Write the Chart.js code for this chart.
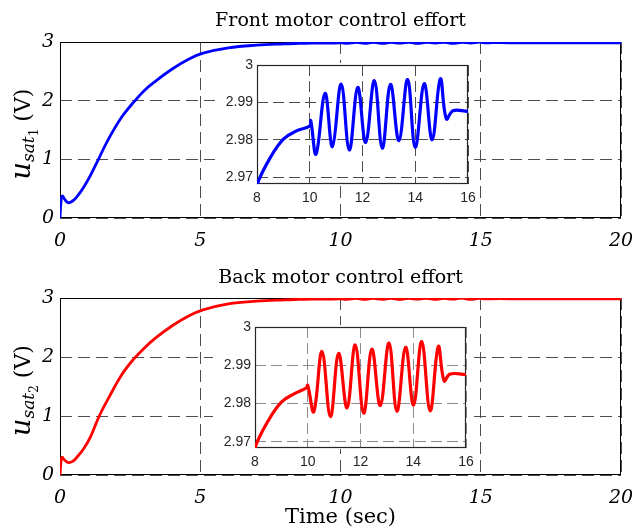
<!DOCTYPE html>
<html>
<head>
<meta charset="utf-8">
<title>Front / back motor control effort</title>
<script src="https://cdn.jsdelivr.net/npm/chart.js@4.4.1/dist/chart.umd.min.js"></script>
<style>
  html, body { margin: 0; padding: 0; background: #fff; }
  body { width: 632px; height: 530px; position: relative; overflow: hidden; }
  canvas { position: absolute; }
  #frontMain { left: 0; top: 0; }
  #backMain { left: 0; top: 262px; }
  #frontZoom { left: 215px; top: 55px; z-index: 2; }
  #backZoom { left: 213px; top: 317px; z-index: 2; }
</style>
</head>
<body>
<canvas id="frontMain" width="632" height="262"></canvas>
<canvas id="backMain" width="632" height="268"></canvas>
<canvas id="frontZoom" width="261" height="149"></canvas>
<canvas id="backZoom" width="261" height="151"></canvas>
<script>
// Front motor: time (sec) and saturated control effort (V)
const frontTime = [0, 0.03, 0.08, 0.18, 0.3, 0.45, 0.6, 0.85, 1.1, 1.37, 1.7, 2.2, 2.6, 3.0, 3.4, 4.0, 4.6, 5.1, 6.0, 7.0,
  8.0, 8.5, 9.0, 9.5, 10.0, 10.04, 10.24, 10.58, 10.86, 11.19, 11.5, 11.82, 12.12, 12.45, 12.75,
  13.06, 13.38, 13.71, 14.0, 14.34, 14.64, 14.95, 15.18, 15.43, 16, 20];
const frontEffort = [0, 0.25, 0.375, 0.31, 0.26, 0.29, 0.36, 0.53, 0.74, 1.0, 1.32, 1.72, 1.96, 2.17, 2.33, 2.54, 2.71, 2.81, 2.9, 2.946,
  2.968, 2.9752, 2.9802, 2.9824, 2.9837, 2.9851, 2.9762, 2.9924, 2.9782, 2.9949, 2.9773, 2.994, 2.9793, 2.9958, 2.9778,
  2.9948, 2.9798, 2.9961, 2.978, 2.995, 2.98, 2.9963, 2.9856, 2.9878, 2.9876, 2.9876];

// Back motor
const backTime = [0, 0.03, 0.07, 0.17, 0.3, 0.45, 0.6, 0.85, 1.1, 1.4, 1.75, 2.2, 2.6, 3.0, 3.4, 4.0, 4.6, 5.1, 6.0, 7.0,
  8.0, 8.5, 9.0, 9.5, 9.95, 10.0, 10.23, 10.54, 10.86, 11.17, 11.49, 11.8, 12.12, 12.43, 12.75,
  13.08, 13.38, 13.71, 14.01, 14.32, 14.64, 14.95, 15.17, 15.39, 16, 20];
const backEffort = [0, 0.2, 0.3, 0.25, 0.21, 0.23, 0.3, 0.45, 0.66, 1.0, 1.32, 1.7, 1.95, 2.15, 2.32, 2.53, 2.7, 2.8, 2.9, 2.946,
  2.9685, 2.9755, 2.9804, 2.9826, 2.9841, 2.9848, 2.9779, 2.9936, 2.9766, 2.9931, 2.9789, 2.9953, 2.9775, 2.9942, 2.9795,
  2.9958, 2.978, 2.9947, 2.9796, 2.9962, 2.9781, 2.9949, 2.9859, 2.9877, 2.9876, 2.9876];

// tick values
const mainTimeTicks = [0, 5, 10, 15, 20];
const mainEffortTicks = [0, 1, 2, 3];
const zoomTimeTicks = [8, 10, 12, 14, 16];
const zoomEffortTicks = [2.97, 2.98, 2.99, 3];

const serif = "'DejaVu Serif', 'Liberation Serif', serif";
const sans = "'Liberation Sans', Arial, sans-serif";

function toPoints(time, values) {
  return time.map((t, i) => ({ x: t, y: values[i] }));
}

function fixedTicks(values) {
  return function (scale) {
    scale.ticks = values.map((v) => ({ value: v }));
  };
}

// box around the plot area, plus a white backing for the zoom insets
const framePlugin = {
  id: "frame",
  beforeDraw(chart, args, opts) {
    if (!opts.fill) return;
    const { ctx, chartArea: a } = chart;
    ctx.save();
    ctx.fillStyle = "#fff";
    ctx.fillRect(0, a.top - 2, a.right + 2, a.bottom - a.top + 3);
    ctx.restore();
  },
  beforeDatasetsDraw(chart, args, opts) {
    const { ctx, chartArea: a } = chart;
    ctx.save();
    ctx.strokeStyle = opts.color || "#000";
    ctx.lineWidth = opts.width || 1;
    ctx.strokeRect(a.left + 0.5, a.top + 0.5, a.right - a.left - 1, a.bottom - a.top - 1);
    ctx.restore();
  },
};

// rotated y label u_sat_n (V) with subscripts
const effortLabelPlugin = {
  id: "effortLabel",
  afterDraw(chart, args, opts) {
    if (!opts.sub) return;
    const { ctx, chartArea: a } = chart;
    const parts = [
      { text: "u", font: "italic 27px " + serif, dy: 0 },
      { text: "sat", font: "italic 17px " + serif, dy: 4 },
      { text: opts.sub, font: "12px " + serif, dy: 8 },
      { text: " (V)", font: "22px " + serif, dy: 0 },
    ];
    ctx.save();
    let total = 0;
    parts.forEach((p) => {
      ctx.font = p.font;
      p.w = ctx.measureText(p.text).width;
      total += p.w;
    });
    ctx.translate(30, (a.top + a.bottom) / 2 + 4);
    ctx.rotate(-Math.PI / 2);
    ctx.fillStyle = "#000";
    ctx.textBaseline = "alphabetic";
    let x = -total / 2;
    parts.forEach((p) => {
      ctx.font = p.font;
      ctx.fillText(p.text, x, p.dy);
      x += p.w;
    });
    ctx.restore();
  },
};

Chart.register(framePlugin, effortLabelPlugin);

function mainChart(id, time, effort, color, title, sub, titlePad, axisHeight, xTitle) {
  return new Chart(document.getElementById(id), {
    type: "line",
    data: {
      datasets: [{
        data: toPoints(time, effort),
        borderColor: color,
        borderWidth: 2.8,
        pointRadius: 0,
        tension: 0.4,
      }],
    },
    options: {
      responsive: false,
      animation: false,
      events: [],
      layout: { padding: { left: 0, right: 11, top: 0, bottom: 0 } },
      plugins: {
        legend: { display: false },
        tooltip: { enabled: false },
        title: {
          display: true,
          fullSize: false,
          text: title,
          color: "#000",
          font: { family: serif, size: 19, weight: "normal" },
          padding: titlePad,
        },
        frame: { color: "#000", width: 1 },
        effortLabel: { sub: sub },
      },
      scales: {
        x: {
          type: "linear",
          min: 0,
          max: 20,
          afterBuildTicks: fixedTicks(mainTimeTicks),
          afterFit(scale) {
            scale.height = axisHeight;
            scale.paddingLeft = 0;
            scale.paddingRight = 0;
          },
          grid: { color: "#4d4d4d", lineWidth: 1, drawTicks: false },
          border: { display: false, dash: [12, 6] },
          ticks: {
            color: "#000",
            font: { family: serif, size: 19, style: "italic" },
            padding: 12,
            maxRotation: 0,
            autoSkip: false,
            callback: (v) => String(v),
          },
          title: xTitle
            ? { display: true, text: xTitle, color: "#000", font: { family: serif, size: 21 }, padding: { top: 0, bottom: 0 } }
            : { display: false },
        },
        y: {
          min: 0,
          max: 3,
          afterBuildTicks: fixedTicks(mainEffortTicks),
          afterFit(scale) {
            scale.width = 60;
            scale.paddingTop = 0;
            scale.paddingBottom = 0;
          },
          grid: { color: "#4d4d4d", lineWidth: 1, drawTicks: false },
          border: { display: false, dash: [12, 6] },
          ticks: {
            color: "#000",
            font: { family: serif, size: 19, style: "italic" },
            padding: 6,
            callback: (v) => String(v),
          },
        },
      },
    },
  });
}

function zoomChart(id, time, effort, color, yMin, gridColor) {
  return new Chart(document.getElementById(id), {
    type: "line",
    data: {
      datasets: [{
        data: toPoints(time, effort),
        borderColor: color,
        borderWidth: 3.2,
        pointRadius: 0,
        tension: 0.4,
      }],
    },
    options: {
      responsive: false,
      animation: false,
      events: [],
      layout: { padding: { left: 0, right: 8, top: 10, bottom: 0 } },
      plugins: {
        legend: { display: false },
        tooltip: { enabled: false },
        frame: { color: "#262626", width: 1.2, fill: true },
        effortLabel: false,
      },
      scales: {
        x: {
          type: "linear",
          min: 8,
          max: 16,
          afterBuildTicks: fixedTicks(zoomTimeTicks),
          afterFit(scale) {
            scale.height = 20;
            scale.paddingLeft = 0;
            scale.paddingRight = 0;
          },
          grid: { color: gridColor, lineWidth: 1, drawTicks: false },
          border: { display: false, dash: [11, 5] },
          ticks: {
            color: "#262626",
            font: { family: sans, size: 14 },
            padding: 6,
            maxRotation: 0,
            autoSkip: false,
            callback: (v) => String(v),
          },
        },
        y: {
          min: yMin,
          max: 3,
          afterBuildTicks: fixedTicks(zoomEffortTicks),
          afterFit(scale) {
            scale.width = 42;
            scale.paddingTop = 0;
            scale.paddingBottom = 0;
          },
          grid: { color: gridColor, lineWidth: 1, drawTicks: false },
          border: { display: false, dash: [11, 5] },
          ticks: {
            color: "#262626",
            font: { family: sans, size: 14 },
            padding: 4,
            callback: (v) => (v === 3 ? "3" : v.toFixed(2)),
          },
        },
      },
    },
  });
}

mainChart("frontMain", frontTime, frontEffort, "#0000ff", "Front motor control effort", "1",
  { top: 10, bottom: 9.2 }, 44, null);
mainChart("backMain", backTime, backEffort, "#ff0000", "Back motor control effort", "2",
  { top: 5, bottom: 8.2 }, 55, "Time (sec)");
zoomChart("frontZoom", frontTime, frontEffort, "#0000ff", 2.9682, "#4d4d4d");
zoomChart("backZoom", backTime, backEffort, "#ff0000", 2.9684, "#8c8c8c");
</script>
</body>
</html>
